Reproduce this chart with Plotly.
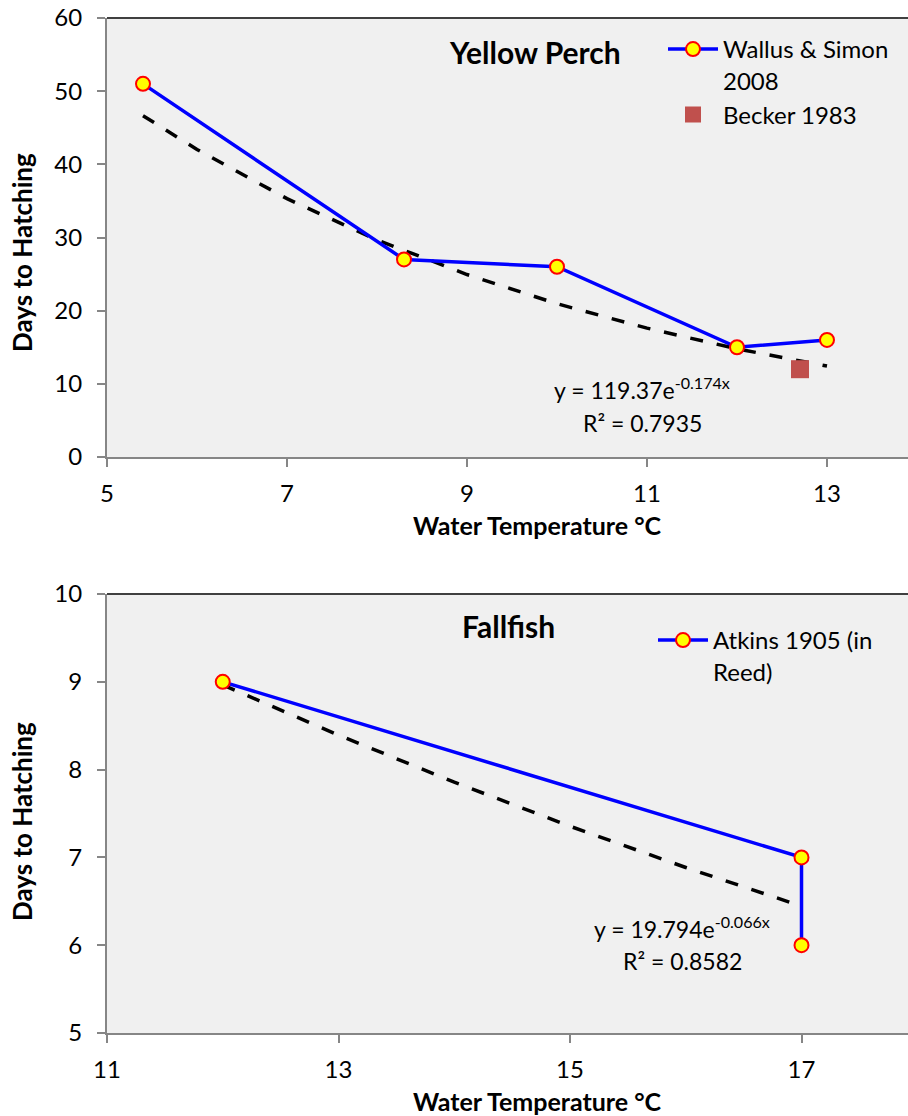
import plotly.graph_objects as go

# Yellow Perch
perch_temp = [5.4, 8.3, 10, 12, 13]
perch_days = [51, 27, 26, 15, 16]
becker_temp = [12.7]
becker_days = [12]
# exponential trendline (y = 119.37e^-0.174x)
perch_trend_x = [5.4, 6, 7, 8, 9, 10, 11, 12, 13]
perch_trend_y = [46.65, 42.03, 35.31, 29.67, 24.94, 20.95, 17.61, 14.79, 12.43]

# Fallfish
fall_temp = [12, 17, 17]
fall_days = [9, 7, 6]
# exponential trendline (y = 19.794e^-0.066x)
fall_trend_x = [12, 13, 14, 15, 16, 17]
fall_trend_y = [8.965, 8.393, 7.857, 7.355, 6.885, 6.445]

FONT = "Lato"
W, H = 908, 1116
BLUE = "#0000FF"
GRID = "#868686"

marker_style = dict(symbol="circle", size=14, color="#FFFF00",
                    line=dict(color="#FF0000", width=2))

fig = go.Figure()

fig.add_trace(go.Scatter(
    x=perch_trend_x, y=perch_trend_y, mode="lines",
    line=dict(color="black", width=3.5, dash="13px,14px"),
    showlegend=False, xaxis="x", yaxis="y", hoverinfo="skip"))
fig.add_trace(go.Scatter(
    x=perch_temp, y=perch_days, mode="lines+markers",
    name="Wallus & Simon<br>2008",
    line=dict(color=BLUE, width=3.5), marker=marker_style,
    xaxis="x", yaxis="y", legend="legend"))
fig.add_trace(go.Scatter(
    x=becker_temp, y=becker_days, mode="markers", name="Becker 1983",
    marker=dict(symbol="square", size=18, color="#C0504D"),
    xaxis="x", yaxis="y", legend="legend"))

fig.add_trace(go.Scatter(
    x=fall_trend_x, y=fall_trend_y, mode="lines",
    line=dict(color="black", width=3.5, dash="13px,14px"),
    showlegend=False, xaxis="x2", yaxis="y2", hoverinfo="skip"))
fig.add_trace(go.Scatter(
    x=fall_temp, y=fall_days, mode="lines+markers",
    name="Atkins 1905 (in<br>Reed)",
    line=dict(color=BLUE, width=3.5), marker=marker_style,
    xaxis="x2", yaxis="y2", legend="legend2"))

axis_common = dict(
    showgrid=False, zeroline=False, showline=True, linecolor=GRID,
    linewidth=2, ticks="outside", ticklen=8, tickcolor=GRID, tickwidth=2,
    tickfont=dict(family=FONT, size=24, color="black"))

xdom = [107 / W, 1]
legend_style = dict(xanchor="left", yanchor="top", bgcolor="rgba(0,0,0,0)",
                    valign="top", itemwidth=50, tracegroupgap=2,
                    font=dict(family=FONT, size=24, color="black"))
fig.update_layout(
    width=W, height=H,
    margin=dict(l=0, r=0, t=0, b=0, autoexpand=False),
    paper_bgcolor="white", plot_bgcolor="#F0F0F0",
    font=dict(family=FONT, color="black"),
    xaxis=dict(axis_common, domain=xdom, range=[5, 13.9], tickvals=[5, 7, 9, 11, 13],
               anchor="y", ticklabelstandoff=6),
    yaxis=dict(axis_common, domain=[1 - 457 / H, 1 - 18 / H], range=[0, 60],
               tickvals=[0, 10, 20, 30, 40, 50, 60], anchor="x", ticklabelstandoff=10),
    xaxis2=dict(axis_common, domain=xdom, range=[11, 17.92], tickvals=[11, 13, 15, 17],
                anchor="y2", ticklabelstandoff=6),
    yaxis2=dict(axis_common, domain=[1 - 1033 / H, 1 - 594 / H], range=[5, 10],
                tickvals=[5, 6, 7, 8, 9, 10], anchor="x2", ticklabelstandoff=10),
    legend=dict(legend_style, x=663 / W, y=1 - 27 / H),
    legend2=dict(legend_style, x=653 / W, y=1 - 618 / H),
)

# dark top border of each plot area
for y0 in (1 - 18 / H, 1 - 594 / H):
    fig.add_shape(type="line", xref="paper", yref="paper", x0=xdom[0], x1=1,
                  y0=y0, y1=y0, line=dict(color="#404040", width=2))


def note(text, x, y, size=23, bold=False, angle=0):
    if bold:
        text = "<b>" + text + "</b>"
    fig.add_annotation(text=text, x=x / W, y=1 - y / H, xref="paper", yref="paper",
                       showarrow=False, xanchor="center", yanchor="middle",
                       textangle=angle, font=dict(family=FONT, size=size, color="black"))


note("Yellow Perch", 535, 52, size=30, bold=True)
note("Fallfish", 508, 626, size=30, bold=True)
note("Water Temperature °C", 537, 525, size=25, bold=True)
note("Water Temperature °C", 537, 1101, size=25, bold=True)
note("Days to Hatching", 22, 253, size=26, bold=True, angle=-90)
note("Days to Hatching", 22, 822, size=26, bold=True, angle=-90)
note("y = 119.37e<sup>-0.174x</sup>", 642, 388)
note("R² = 0.7935", 642, 423)
note("y = 19.794e<sup>-0.066x</sup>", 682, 927)
note("R² = 0.8582", 682, 961)

fig.write_html("out.html", config={"displayModeBar": False},
               post_script="document.body.style.margin='0';")
